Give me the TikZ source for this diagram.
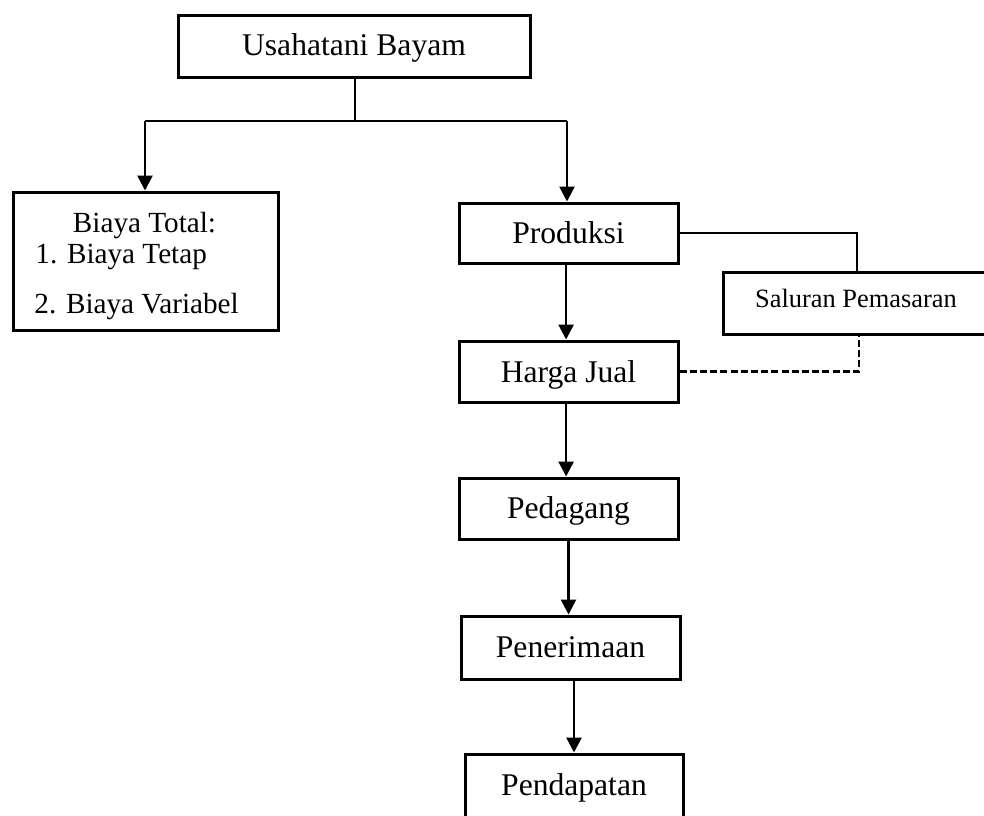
\documentclass[tikz,border=0pt]{standalone}
\usepackage{fontspec}
\setmainfont{Liberation Serif}
\usetikzlibrary{arrows.meta}
\begin{document}
\begin{tikzpicture}[x=0.5pt,y=-0.5pt,
  box/.style={draw,line width=1.5pt,rectangle,inner sep=0pt,
    font=\fontsize{15.8}{19}\selectfont,text height=10pt,text depth=0pt},
  lbl/.style={inner sep=0pt,font=\fontsize{14.6}{17}\selectfont},
  conn/.style={line width=1.35pt},
  arr/.style={line width=1.35pt,-{Triangle[length=7.5pt,width=7.5pt]}},
  dsh/.style={line width=1.35pt,dash pattern=on 3.5pt off 1.6pt}]
\useasboundingbox (0,0) rectangle (984,815);
\node[box,minimum width=176pt,minimum height=31pt,text height=9pt] (top) at (354,46) {Usahatani Bayam};
\node[box,minimum width=132.5pt,minimum height=69pt] (biaya) at (145.5,261) {};
\node[lbl,anchor=base] (bt) at (144.5,232) {Biaya Total:};
\node[lbl,anchor=base west] (b1) at (35,263) {1. Biaya Tetap};
\node[lbl,anchor=base west] (b2) at (34,313) {2. Biaya Variabel};
\node[box,minimum width=109.5pt,minimum height=30pt] (prod) at (568.5,233) {Produksi};
\node[box,minimum width=109.5pt,minimum height=30.5pt,text height=11pt] (harga) at (568.5,371.5) {Harga Jual};
\node[box,minimum width=109.5pt,minimum height=30.5pt] (ped) at (568.5,508.5) {Pedagang};
\node[box,minimum width=109.5pt,minimum height=31.5pt] (pen) at (570.5,647.5) {Penerimaan};
\node[box,minimum width=109pt,minimum height=33pt,text height=8pt] (pend) at (574,787) {Pendapatan};
\node[box,minimum width=133pt,minimum height=31pt,font=\fontsize{13.2}{16}\selectfont,text height=4pt] (sal) at (856,303) {Saluran Pemasaran};
\coordinate (j) at (355,121);
\coordinate (jl) at (145,121);
\coordinate (jr) at (567,121);
\draw[conn] (top.south -| j) -- (j);
\draw[conn] (jl) -- (jr);
\draw[arr] (jl) -- (jl |- biaya.north);
\draw[arr] (jr) -- (jr |- prod.north);
\draw[arr] ([xshift=-1.2pt]prod.south) -- ([xshift=-1.2pt]harga.north);
\draw[arr] ([xshift=-1.2pt]harga.south) -- ([xshift=-1.2pt]ped.north);
\draw[arr] (ped.south) -- (ped.south |- pen.north);
\draw[arr] (pen.south -| pend.north) -- (pend.north);
\draw[conn] (prod.east) -| ([xshift=0.5pt]sal.north);
\draw[dsh] (harga.east) -| ([xshift=1.5pt]sal.south);
\end{tikzpicture}
\end{document}
